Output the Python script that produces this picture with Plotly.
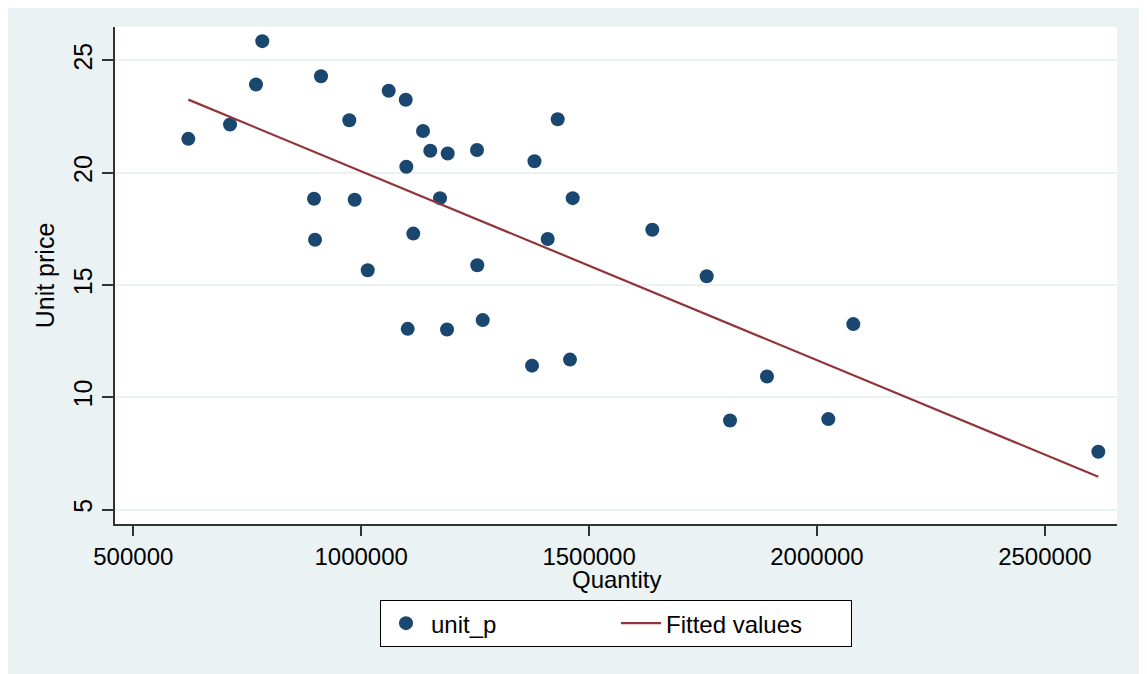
import numpy as np
import plotly.graph_objects as go

# Data
quantity = [620700, 712200, 769200, 783000, 896500, 898700, 911800, 973900, 985700,
            1014300, 1060300, 1097700, 1099000, 1102000, 1114300, 1135600, 1151600,
            1172900, 1189800, 1188300, 1254100, 1254700, 1266600, 1374800, 1380200,
            1409200, 1431100, 1458100, 1464000, 1638700, 1758000, 1809200, 1890300,
            2024800, 2079700, 2617200]
unit_p = [21.51, 22.15, 23.93, 25.86, 18.84, 17.02, 24.30, 22.34, 18.80,
          15.66, 23.65, 23.25, 20.27, 13.05, 17.29, 21.86, 20.98,
          18.87, 20.86, 13.02, 21.01, 15.88, 13.44, 11.41, 20.51,
          17.05, 22.38, 11.68, 18.87, 17.46, 15.39, 8.97, 10.93,
          9.03, 13.26, 7.58]

x_ticks = [500000, 1000000, 1500000, 2000000, 2500000]
y_ticks = [5, 10, 15, 20, 25]

# Linear fit (Fitted values) over the observed range
slope, intercept = np.polyfit(quantity, unit_p, 1)
fit_x = [min(quantity), max(quantity)]
fit_y = [slope * v + intercept for v in fit_x]

BG = "#EAF2F3"
AX = "#333333"
FONT = "Liberation Sans, Arial, sans-serif"

fig = go.Figure()
fig.add_trace(go.Scatter(
    x=quantity, y=unit_p, mode="markers", name="unit_p",
    marker=dict(color="#1a476f", size=14, line=dict(width=0)),
))
fig.add_trace(go.Scatter(
    x=fit_x, y=fit_y, mode="lines", name="Fitted values",
    line=dict(color="#90353b", width=2.2),
))

fig.update_layout(
    width=1139, height=666,
    margin=dict(l=107, r=30, t=19, b=150),
    paper_bgcolor=BG, plot_bgcolor="white",
    font=dict(family=FONT, color="black", size=24),
    showlegend=True,
    legend=dict(
        orientation="h", x=0.5, xanchor="center", y=-0.153, yanchor="top",
        bgcolor="white", bordercolor="black", borderwidth=1,
        font=dict(size=24), entrywidth=180, itemwidth=40,
    ),
    xaxis=dict(
        range=[459850, 2658200],
        tickvals=x_ticks, ticktext=[str(v) for v in x_ticks],
        showgrid=False, zeroline=False,
        showline=True, linecolor=AX, linewidth=1.5,
        ticks="outside", ticklen=10, tickcolor=AX, tickwidth=1.5,
        tickfont=dict(size=24),
    ),
    yaxis=dict(
        range=[4.36, 26.49],
        tickvals=y_ticks, ticktext=[str(v) for v in y_ticks],
        tickangle=-90,
        showgrid=True, gridcolor=BG, gridwidth=2,
        zeroline=False,
        showline=True, linecolor=AX, linewidth=1.5,
        ticks="outside", ticklen=11, tickcolor=AX, tickwidth=1.5,
        tickfont=dict(size=25),
        title=dict(text="Unit price", font=dict(size=25), standoff=8),
    ),
    annotations=[dict(
        text="Quantity", xref="paper", yref="paper", x=0.5, y=-0.111,
        xanchor="center", yanchor="middle", showarrow=False,
        font=dict(size=24, family=FONT, color="black"),
    )],
)

fig.write_html("out.html")
